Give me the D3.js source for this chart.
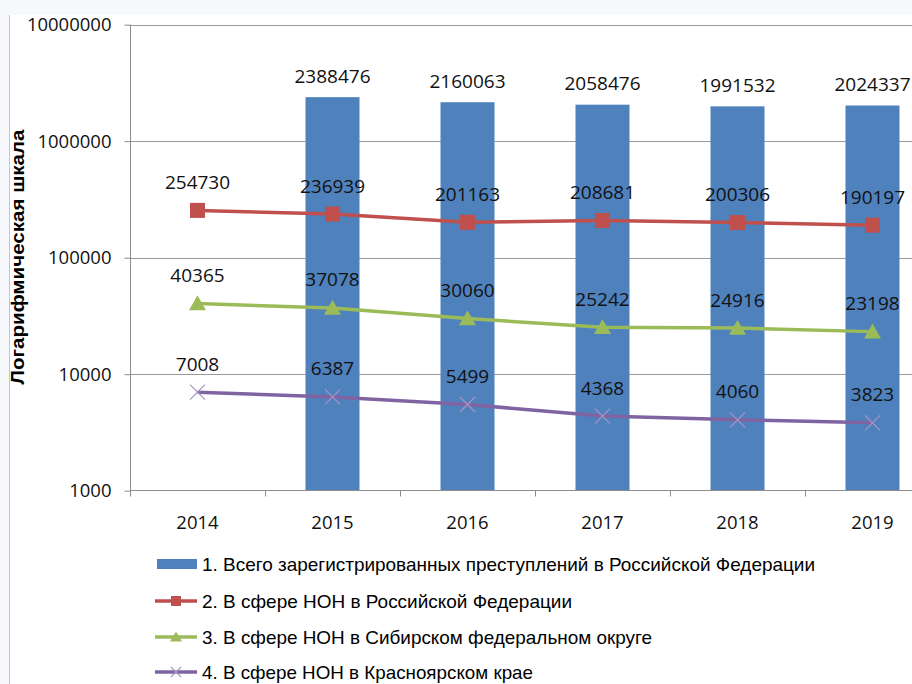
<!DOCTYPE html>
<html><head><meta charset="utf-8">
<script src="https://cdn.jsdelivr.net/npm/d3@7"></script>
<style>html,body{margin:0;padding:0;background:#F7F9FD;}svg{display:block;}</style>
</head><body>
<svg id="c" width="912" height="684"></svg>
<script>
const years = ["2014","2015","2016","2017","2018","2019"];
const totalCrimes = [null, 2388476, 2160063, 2058476, 1991532, 2024337];
const nonRussia = [254730, 236939, 201163, 208681, 200306, 190197];
const nonSiberia = [40365, 37078, 30060, 25242, 24916, 23198];
const nonKrasnoyarsk = [7008, 6387, 5499, 4368, 4060, 3823];
const yTicks = [1000, 10000, 100000, 1000000, 10000000];
const seriesNames = [
  "1. Всего зарегистрированных преступлений в Российской Федерации",
  "2. В сфере НОН в Российской Федерации",
  "3. В сфере НОН в Сибирском федеральном округе",
  "4. В сфере НОН в Красноярском крае"
];
const yTitle = "Логарифмическая шкала";

const svg = d3.select("#c");
const numFont = "'Open Sans', sans-serif";
const txtFont = "'Liberation Sans', Arial, sans-serif";

// background frame
svg.append("rect").attr("x",0).attr("y",0).attr("width",912).attr("height",684).attr("fill","#F7F9FD");
svg.append("rect").attr("x",10).attr("y",15).attr("width",902).attr("height",669).attr("fill","#fff");
svg.append("line").attr("x1",9.5).attr("x2",9.5).attr("y1",15).attr("y2",684).attr("stroke","#c4c4c4").attr("stroke-width",1);

const x = d3.scaleBand().domain(years).range([130, 940]).paddingInner(0).paddingOuter(0);
const y = d3.scaleLog().domain([1000, 10000000]).range([490.7, 24.7]);
const cx = d => x(d) + x.bandwidth()/2;

// gridlines
svg.append("g").selectAll("line").data(yTicks.slice(1)).join("line")
  .attr("x1",130).attr("x2",912)
  .attr("y1",d=>Math.round(y(d))+0.5).attr("y2",d=>Math.round(y(d))+0.5)
  .attr("stroke","#9a9a9a").attr("stroke-width",1);

// y axis
const yAxis = d3.axisLeft(y).tickValues(yTicks).tickFormat(d3.format("d")).tickSize(6).tickPadding(13);
const gy = svg.append("g").attr("transform","translate(130.5,0)").call(yAxis);
gy.select(".domain").attr("stroke","#8c8c8c").attr("d","M0,24.7V490.7");
gy.selectAll(".tick line").attr("stroke","#8c8c8c");
gy.selectAll(".tick text").attr("font-family",numFont).attr("font-size","18.5px").attr("fill","#111");

// bars
const barW = 54;
svg.append("g").selectAll("rect").data(years.map((yr,i)=>({yr, v: totalCrimes[i]})).filter(d=>d.v!=null)).join("rect")
  .attr("x", d=>cx(d.yr)-barW/2).attr("width", barW)
  .attr("y", d=>y(d.v)).attr("height", d=>y(1000)-y(d.v))
  .attr("fill","#4F81BD");

// x axis
const gx = svg.append("g").attr("transform","translate(0,490.5)");
gx.append("line").attr("x1",130).attr("x2",912).attr("stroke","#8c8c8c");
gx.selectAll("line.t").data(years.map(d=>x(d)).concat([940])).join("line").attr("class","t")
  .attr("x1",d=>Math.round(d)+0.5).attr("x2",d=>Math.round(d)+0.5).attr("y1",0).attr("y2",6).attr("stroke","#8c8c8c");
gx.selectAll("text").data(years).join("text")
  .attr("x",d=>cx(d)).attr("y",38).attr("text-anchor","middle")
  .attr("font-family",numFont).attr("font-size","18.5px").attr("fill","#111").text(d=>d);

// bar labels
svg.append("g").selectAll("text").data(years.map((yr,i)=>({yr, v: totalCrimes[i]})).filter(d=>d.v!=null)).join("text")
  .attr("x", d=>cx(d.yr)).attr("y", d=>y(d.v)-14.5).attr("text-anchor","middle")
  .attr("font-family",numFont).attr("font-size","19px").attr("fill","#111").text(d=>d.v);

// lines
const lineSeries = [
  {vals: nonRussia, color:"#C0504D", marker:"square"},
  {vals: nonSiberia, color:"#9BBB59", marker:"triangle"},
  {vals: nonKrasnoyarsk, color:"#8064A2", marker:"x"}
];
const lineGen = d3.line().x(d=>cx(d.yr)).y(d=>y(d.v));
function drawMarker(g, type, color, px, py, s){
  if(type==="square"){
    g.append("rect").attr("x",px-s/2).attr("y",py-s/2).attr("width",s).attr("height",s).attr("fill",color);
  } else if(type==="triangle"){
    const h = s;
    g.append("path").attr("d",`M${px},${py-h*0.55}L${px+s/2+1},${py+h*0.45}L${px-s/2-1},${py+h*0.45}Z`).attr("fill",color);
  } else {
    const r = s/2;
    g.append("path").attr("d",`M${px-r},${py-r}L${px+r},${py+r}M${px-r},${py+r}L${px+r},${py-r}`)
      .attr("stroke","#A895C4").attr("stroke-width",1.2).attr("fill","none");
  }
}
lineSeries.forEach(s=>{
  const pts = years.map((yr,i)=>({yr, v:s.vals[i]}));
  const g = svg.append("g");
  g.append("path").attr("d",lineGen(pts)).attr("fill","none").attr("stroke",s.color).attr("stroke-width",3.5).attr("stroke-linejoin","round");
  pts.forEach(p=>drawMarker(g, s.marker, s.color, cx(p.yr), y(p.v), 15));
  g.selectAll("text").data(pts).join("text")
    .attr("x",d=>cx(d.yr)).attr("y",d=>y(d.v)-21.5).attr("text-anchor","middle")
    .attr("font-family",numFont).attr("font-size","19px").attr("fill","#111").text(d=>d.v);
});

// y title
svg.append("text").attr("transform","translate(24,257) rotate(-90)").attr("text-anchor","middle")
  .attr("font-family",txtFont).attr("font-weight","bold").attr("font-size","17.5px").attr("fill","#000")
  .attr("textLength",255).attr("lengthAdjust","spacingAndGlyphs").text(yTitle);

// legend
const legY = [564, 601, 637, 672];
const legW = [613, 370, 450, 331];
const leg = svg.append("g");
seriesNames.forEach((name,i)=>{
  const yy = legY[i];
  if(i===0){
    leg.append("rect").attr("x",157).attr("y",yy-5).attr("width",40).attr("height",10).attr("fill","#4F81BD");
  } else {
    const s = lineSeries[i-1];
    leg.append("line").attr("x1",155).attr("x2",197).attr("y1",yy).attr("y2",yy).attr("stroke",s.color).attr("stroke-width",3.5);
    drawMarker(leg, s.marker, s.color, 176, yy, 10);
  }
  leg.append("text").attr("x",202).attr("y",yy+6.5)
    .attr("font-family",txtFont).attr("font-size","18.5px").attr("fill","#000")
    .attr("textLength",legW[i]).attr("lengthAdjust","spacingAndGlyphs").text(name);
});
</script>
</body></html>
